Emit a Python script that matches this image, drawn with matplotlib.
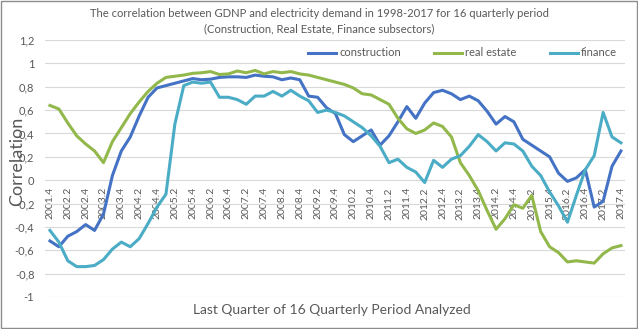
import matplotlib
matplotlib.use("Agg")
import matplotlib.pyplot as plt
from matplotlib.patches import Rectangle

quarters = [f"{y}.{q}" for y in range(2001, 2018) for q in range(1, 5)][3:]

construction = [-0.52, -0.57, -0.48, -0.44, -0.38, -0.43, -0.29, 0.04, 0.25, 0.37,
                0.55, 0.71, 0.79, 0.81, 0.83, 0.85, 0.87, 0.86, 0.865, 0.88,
                0.885, 0.885, 0.88, 0.90, 0.89, 0.885, 0.86, 0.875, 0.86, 0.72,
                0.71, 0.62, 0.57, 0.39, 0.33, 0.38, 0.43, 0.30, 0.38, 0.50,
                0.63, 0.53, 0.66, 0.75, 0.77, 0.74, 0.69, 0.72, 0.68, 0.59,
                0.48, 0.545, 0.50, 0.35, 0.30, 0.25, 0.20, 0.06, -0.01, 0.02,
                0.09, -0.23, -0.18, 0.12, 0.25]
real_estate = [0.64, 0.61, 0.49, 0.38, 0.31, 0.25, 0.15, 0.33, 0.45, 0.57,
               0.67, 0.76, 0.83, 0.88, 0.89, 0.90, 0.915, 0.92, 0.93, 0.905,
               0.91, 0.935, 0.92, 0.94, 0.91, 0.93, 0.92, 0.93, 0.91, 0.90,
               0.88, 0.86, 0.84, 0.82, 0.79, 0.74, 0.73, 0.69, 0.65, 0.53,
               0.44, 0.40, 0.43, 0.49, 0.46, 0.37, 0.15, 0.04, -0.09, -0.26,
               -0.42, -0.33, -0.21, -0.24, -0.13, -0.44, -0.57, -0.62, -0.70, -0.69,
               -0.70, -0.71, -0.63, -0.58, -0.56]
finance = [-0.43, -0.53, -0.69, -0.74, -0.74, -0.73, -0.68, -0.59, -0.53, -0.57,
           -0.50, -0.37, -0.23, -0.12, 0.48, 0.81, 0.84, 0.83, 0.84, 0.71,
           0.71, 0.69, 0.65, 0.72, 0.72, 0.76, 0.72, 0.77, 0.72, 0.68,
           0.58, 0.60, 0.58, 0.55, 0.50, 0.45, 0.38, 0.29, 0.15, 0.18,
           0.11, 0.07, -0.02, 0.17, 0.11, 0.18, 0.21, 0.29, 0.39, 0.33,
           0.25, 0.32, 0.31, 0.25, 0.12, 0.04, -0.10, -0.22, -0.36, -0.13,
           0.09, 0.21, 0.58, 0.37, 0.32]

y_ticks = [-1, -0.8, -0.6, -0.4, -0.2, 0, 0.2, 0.4, 0.6, 0.8, 1, 1.2]

plt.rcParams["font.family"] = ["Lato", "DejaVu Sans"]
text_color = "#595959"

fig = plt.figure(figsize=(6.38, 3.29), dpi=100)
ax = fig.add_axes([0.0713, 0.0973, 0.909, 0.781])

ax.plot(quarters, construction, color="#4472C4", lw=2.2, label="construction")
ax.plot(quarters, real_estate, color="#92B84C", lw=2.2, label="real estate")
ax.plot(quarters, finance, color="#4BACC6", lw=2.2, label="finance")

ax.set_xlim(-0.5, len(quarters) - 0.5)
ax.set_ylim(-1, 1.2)
ax.set_yticks(y_ticks)
ax.set_yticklabels([f"{v:g}".replace(".", ",") for v in y_ticks])
ax.set_xticks(range(0, len(quarters), 2))
ax.set_xticklabels(quarters[::2])
ax.grid(axis="y", color="#D9D9D9", lw=0.8)
ax.set_axisbelow(True)
for s in ax.spines.values():
    s.set_visible(False)
ax.spines["bottom"].set_position(("data", 0))
ax.tick_params(axis="both", length=0, colors=text_color)
ax.tick_params(axis="y", labelsize=8, pad=8)
ax.tick_params(axis="x", labelsize=7.5, pad=5, labelrotation=90)

fig.text(0.027, 0.51, "Correlation", rotation=90, ha="center", va="center",
         fontsize=13, color=text_color)
fig.text(0.52, 0.058, "Last Quarter of 16 Quarterly Period Analyzed",
         ha="center", va="center", fontsize=10, color=text_color)
fig.text(0.5, 0.935, "The correlation between GDNP and electricity demand in 1998-2017 for 16 quarterly period\n"
         "(Construction, Real Estate, Finance subsectors)",
         ha="center", va="center", fontsize=8.1, color=text_color, linespacing=1.45)

fig.legend(loc="center", bbox_to_anchor=(0.725, 0.839), ncol=3, frameon=False,
           fontsize=8, handlelength=2.5, columnspacing=3.0, handletextpad=0.3,
           labelcolor=text_color)

fig.patches.append(Rectangle((0.001, 0.002), 0.997, 0.995, transform=fig.transFigure,
                             fill=False, edgecolor="#8C8C8C", lw=1))

fig.savefig("out.png", dpi=100)
